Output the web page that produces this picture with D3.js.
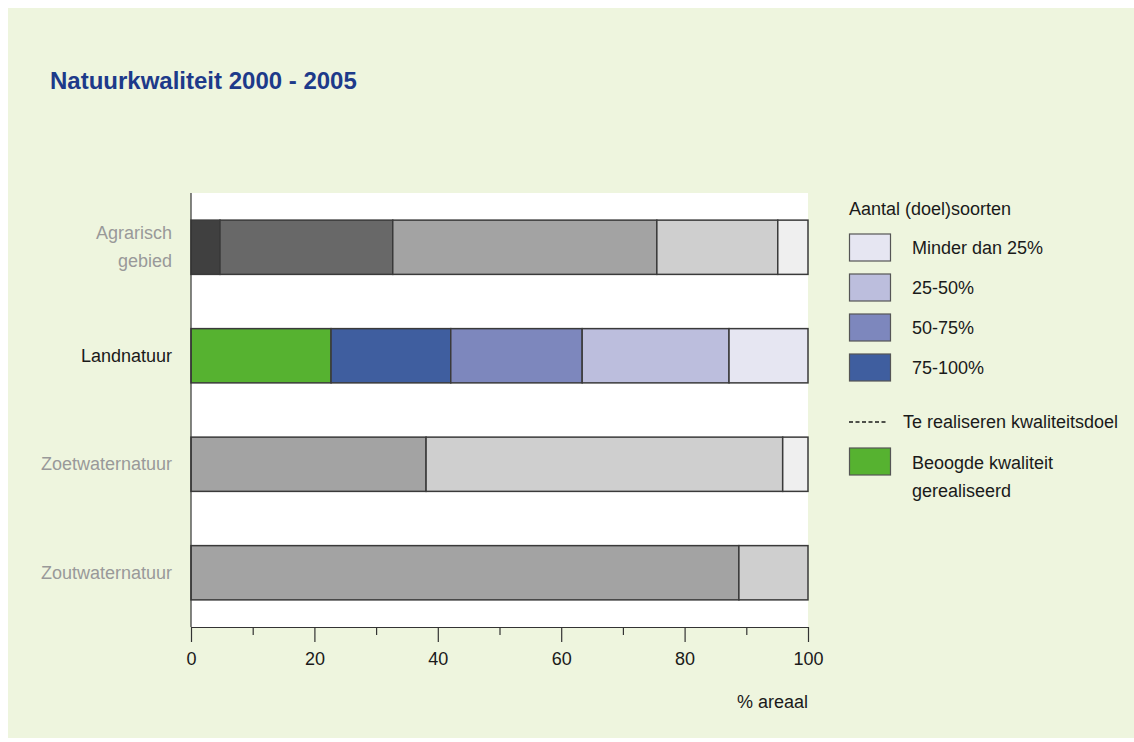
<!DOCTYPE html>
<html>
<head>
    <title>Natuurkwaliteit 2000 - 2005</title>
    <script src="https://d3js.org/d3.v7.min.js"></script>
    <style>
        body { margin: 0; background: #fff; }
        text { font-family: "Liberation Sans Narrow", "Arial Narrow", "Liberation Sans", sans-serif; }
    </style>
</head>
<body>
    <div id="chart"></div>

    <script>
        // categories (top to bottom)
        const categories = ["Agrarisch gebied", "Landnatuur", "Zoetwaternatuur", "Zoutwaternatuur"];

        // segment widths in % areaal, left to right
        const agrarisch = [4.7, 28.0, 42.8, 19.6, 4.9];
        const landnatuur = [22.7, 19.4, 21.3, 23.8, 12.8];
        const zoetwater = [38.1, 57.8, 4.1];
        const zoutwater = [88.8, 11.2];

        const greyColors = ["#404040", "#686868", "#a3a3a3", "#cfcfcf", "#efefef"];
        const landColors = ["#56b230", "#3f5e9f", "#7d87bd", "#bcbedd", "#e6e6f2"];

        const rows = [
            { name: categories[0], values: agrarisch, colors: greyColors, active: false },
            { name: categories[1], values: landnatuur, colors: landColors, active: true },
            { name: categories[2], values: zoetwater, colors: greyColors.slice(2), active: false },
            { name: categories[3], values: zoutwater, colors: greyColors.slice(2), active: false }
        ];

        const legendLabels = ["Minder dan 25%", "25-50%", "50-75%", "75-100%"];
        const legendColors = ["#e6e6f2", "#bcbedd", "#7d87bd", "#3f5e9f"];

        const xTicks = [0, 20, 40, 60, 80, 100];
        const xMinorTicks = [10, 30, 50, 70, 90];

        const width = 1134, height = 742;
        const plot = { left: 191, right: 808, top: 193, bottom: 627 };

        const svg = d3.select("#chart").append("svg")
            .attr("width", width)
            .attr("height", height);

        // background panel
        svg.append("rect")
            .attr("x", 8).attr("y", 8)
            .attr("width", width - 8).attr("height", 730)
            .attr("fill", "#eef5de");

        svg.append("text")
            .attr("x", 50).attr("y", 89)
            .attr("fill", "#1d3a8a")
            .attr("font-size", 24)
            .attr("font-weight", "bold")
            .text("Natuurkwaliteit 2000 - 2005");

        const x = d3.scaleLinear().domain([0, 100]).range([plot.left, plot.right]);
        const y = d3.scaleBand().domain(categories)
            .range([plot.top, plot.bottom])
            .paddingInner(0.5).paddingOuter(0.25);

        // white plot area
        svg.append("rect")
            .attr("x", plot.left).attr("y", plot.top)
            .attr("width", plot.right - plot.left).attr("height", plot.bottom - plot.top)
            .attr("fill", "#fff");

        // stacked bars
        rows.forEach(function(row) {
            let acc = 0;
            const segs = row.values.map(function(v, i) {
                const s = { x0: acc, x1: acc + v, color: row.colors[i] };
                acc += v;
                return s;
            });
            svg.append("g").selectAll("rect")
                .data(segs)
                .enter()
                .append("rect")
                .attr("x", d => x(d.x0))
                .attr("y", y(row.name))
                .attr("width", d => x(d.x1) - x(d.x0))
                .attr("height", y.bandwidth())
                .attr("fill", d => d.color)
                .attr("stroke", "#3a3a3a")
                .attr("stroke-width", 1.5);
        });

        // category labels
        rows.forEach(function(row) {
            const cy = y(row.name) + y.bandwidth() / 2;
            const words = row.name === "Agrarisch gebied" ? ["Agrarisch", "gebied"] : [row.name];
            const t = svg.append("text")
                .attr("x", 172)
                .attr("text-anchor", "end")
                .attr("font-size", 18)
                .attr("fill", row.active ? "#1a1a1a" : "#999999");
            words.forEach(function(w, i) {
                t.append("tspan")
                    .attr("x", 172)
                    .attr("y", cy + 6 + (i - (words.length - 1) / 2) * 28)
                    .text(w);
            });
        });

        // y axis line
        svg.append("line")
            .attr("x1", plot.left).attr("x2", plot.left)
            .attr("y1", plot.top).attr("y2", plot.bottom)
            .attr("stroke", "#333").attr("stroke-width", 1.2);

        // x axis
        const xAxis = svg.append("g")
            .attr("transform", "translate(0," + plot.bottom + ")")
            .call(d3.axisBottom(x).tickValues(xTicks).tickSize(15).tickSizeOuter(0)
                .tickPadding(10).tickFormat(d3.format("d")));
        xAxis.select(".domain").attr("stroke", "#333").attr("stroke-width", 1.2);
        xAxis.selectAll(".tick line").attr("stroke", "#333").attr("stroke-width", 1.2);
        xAxis.selectAll(".tick text")
            .attr("font-size", 18)
            .attr("fill", "#1a1a1a")
            .attr("font-family", "'Liberation Sans Narrow', 'Liberation Sans', sans-serif");

        svg.append("g")
            .attr("transform", "translate(0," + plot.bottom + ")")
            .call(d3.axisBottom(x).tickValues(xMinorTicks).tickSize(8).tickFormat(""))
            .call(g => g.select(".domain").remove())
            .call(g => g.selectAll(".tick line").attr("stroke", "#333").attr("stroke-width", 1.2));

        svg.append("text")
            .attr("x", plot.right).attr("y", 708)
            .attr("text-anchor", "end")
            .attr("font-size", 18)
            .attr("fill", "#1a1a1a")
            .text("% areaal");

        // legend
        const lg = svg.append("g");
        lg.append("text")
            .attr("x", 849).attr("y", 215)
            .attr("font-size", 18).attr("fill", "#1a1a1a")
            .text("Aantal (doel)soorten");

        legendLabels.forEach(function(label, i) {
            const ly = 234 + i * 40;
            lg.append("rect")
                .attr("x", 849.5).attr("y", ly)
                .attr("width", 41).attr("height", 27)
                .attr("fill", legendColors[i])
                .attr("stroke", "#555").attr("stroke-width", 1.2);
            lg.append("text")
                .attr("x", 912).attr("y", ly + 20)
                .attr("font-size", 18).attr("fill", "#1a1a1a")
                .text(label);
        });

        lg.append("line")
            .attr("x1", 849).attr("x2", 886)
            .attr("y1", 422).attr("y2", 422)
            .attr("stroke", "#1a1a1a").attr("stroke-width", 1.5)
            .attr("stroke-dasharray", "4,2.5");
        lg.append("text")
            .attr("x", 903).attr("y", 428)
            .attr("font-size", 18).attr("fill", "#1a1a1a")
            .text("Te realiseren kwaliteitsdoel");

        lg.append("rect")
            .attr("x", 849.5).attr("y", 448)
            .attr("width", 41).attr("height", 27)
            .attr("fill", "#56b230")
            .attr("stroke", "#555").attr("stroke-width", 1.2);
        lg.append("text")
            .attr("x", 912).attr("y", 469)
            .attr("font-size", 18).attr("fill", "#1a1a1a")
            .text("Beoogde kwaliteit");
        lg.append("text")
            .attr("x", 912).attr("y", 497)
            .attr("font-size", 18).attr("fill", "#1a1a1a")
            .text("gerealiseerd");
    </script>
</body>
</html>
